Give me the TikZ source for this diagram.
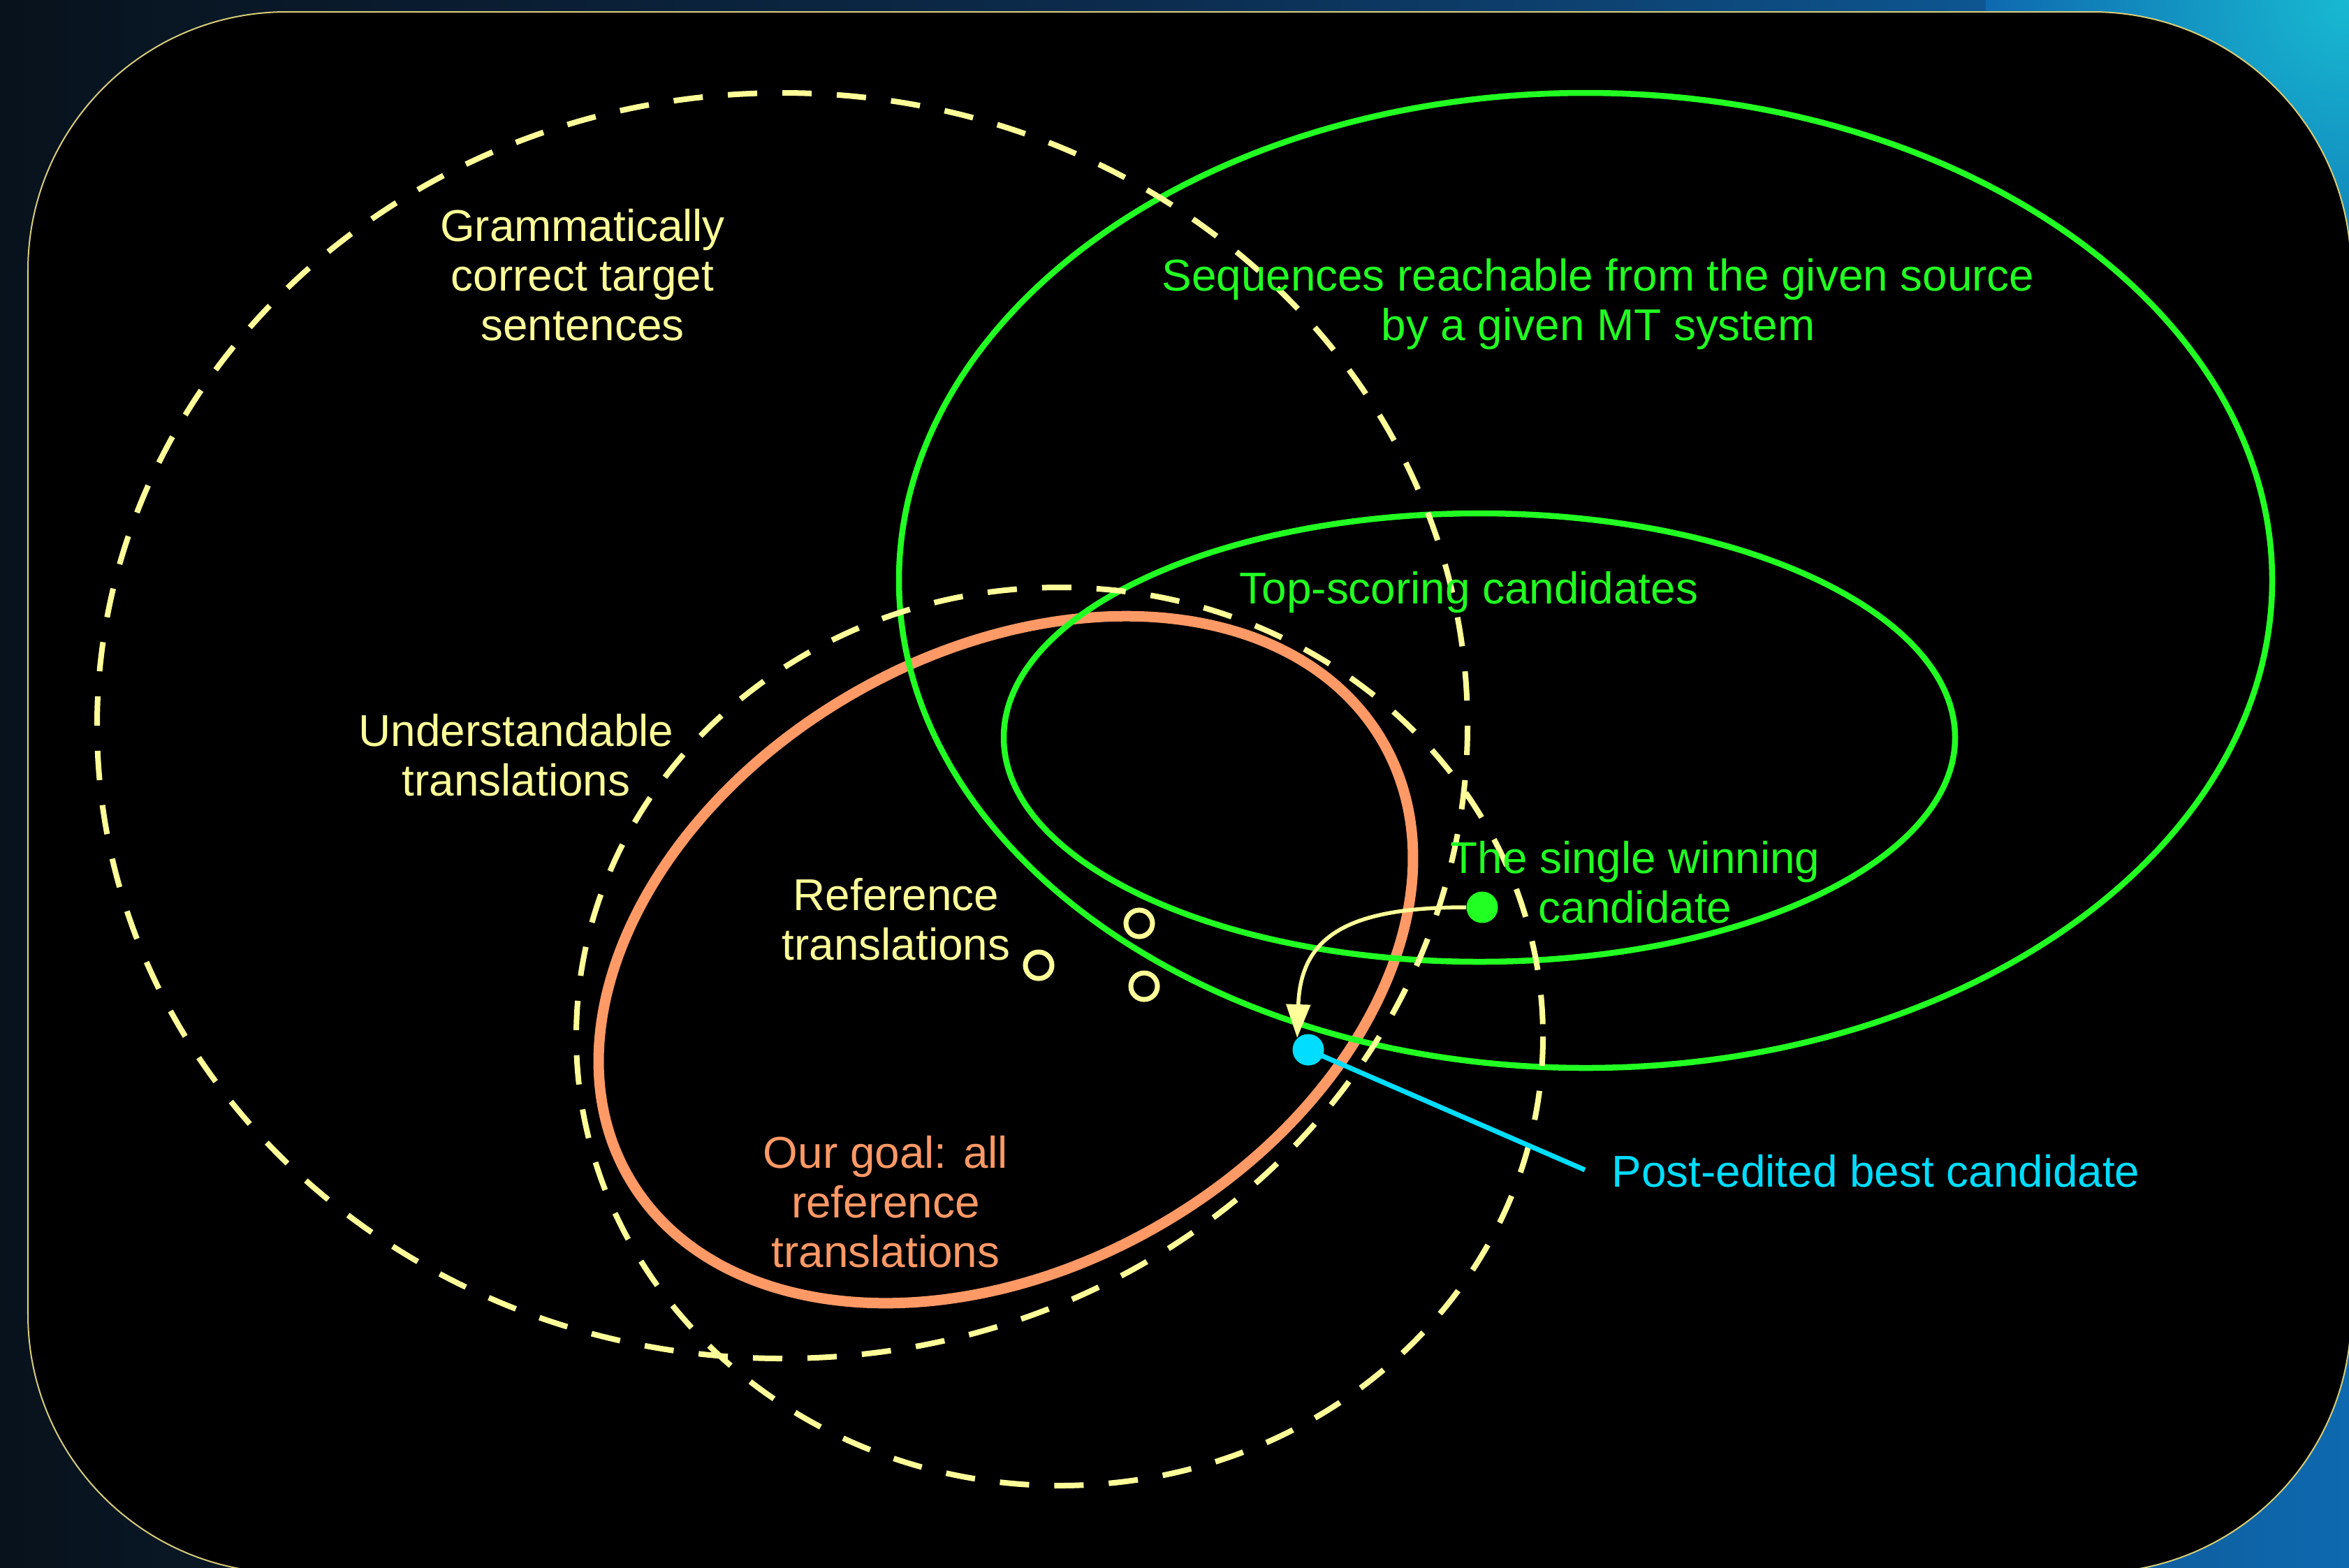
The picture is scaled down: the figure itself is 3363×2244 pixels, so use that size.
\documentclass[tikz,border=0pt]{standalone}
\usepackage{fontspec}
\setmainfont{Liberation Sans}
\usetikzlibrary{arrows.meta}
\definecolor{ylw}{RGB}{255,255,153}
\definecolor{grn}{RGB}{34,255,34}
\definecolor{org}{RGB}{255,153,102}
\definecolor{cyn}{RGB}{0,221,255}
\definecolor{bgA}{RGB}{8,18,28}
\definecolor{bgB}{RGB}{12,45,80}
\definecolor{bgC}{RGB}{14,105,175}
\definecolor{tealglow}{RGB}{24,185,210}
\definecolor{framecol}{RGB}{215,205,120}
\begin{document}
\begin{tikzpicture}[x=0.01cm,y=-0.01cm,
  lbl/.style={font=\fontsize{18.15pt}{20.2pt}\selectfont, align=center, inner sep=0pt, anchor=north},
  yset/.style={draw=ylw, line width=0.08cm, dash pattern=on 0.42cm off 0.36cm},
  gset/.style={draw=grn, line width=0.085cm},
  oset/.style={draw=org, line width=0.15cm},
  refdot/.style={circle, draw=ylw, line width=0.07cm, minimum size=0.38cm, inner sep=0pt},
  filldot/.style={circle, minimum size=0.45cm, inner sep=0pt}]
\useasboundingbox (0,0) rectangle (3363,2244);
% space background
\shade[left color=bgA, right color=bgC, middle color=bgB] (0,0) rectangle (3363,2244);
\shade[inner color=tealglow, outer color=bgC] (3363,0) circle [radius=520];
% black panel
\filldraw[fill=black, draw=framecol, line width=0.02cm, rounded corners=3.7cm] (40,17) rectangle (3366,2252);
% sets
\draw[oset, rotate around={30:(1440,1374)}] (1440,1374) ellipse [x radius=6.23cm, y radius=4.39cm];
\draw[gset] (2270,831) ellipse [x radius=983, y radius=698];
\draw[gset] (2118,1056) ellipse [x radius=681, y radius=321];
\draw[yset] (1120,1039) ellipse [x radius=981, y radius=906];
\draw[yset] (1517,1484) ellipse [x radius=692, y radius=643];
% labels
\node[lbl, text=ylw] (gram) at (834,295) {Grammatically\strut\\correct target\strut\\sentences\strut};
\node[lbl, text=grn] (seq) at (2288,366) {Sequences reachable from the given source\strut\\by a given MT system\strut};
\node[lbl, text=grn] (top) at (2103,814) {Top-scoring candidates\strut};
\node[lbl, text=ylw] (und) at (739,1018) {Understandable\strut\\translations\strut};
\node[lbl, text=grn] (win) at (2341,1200) {The single winning\strut\\candidate\strut};
\node[lbl, text=ylw] (refl) at (1283,1253) {Reference\strut\\translations\strut};
\node[lbl, text=org] (goal) at (1268,1622) {Our goal: all\strut\\reference\strut\\translations\strut};
\node[lbl, anchor=base west, text=cyn] (post) at (2307,1699) {Post-edited best candidate};
% reference points
\node[refdot] (r1) at (1487,1382) {};
\node[refdot] (r2) at (1631,1322) {};
\node[refdot] (r3) at (1638,1412) {};
% winning and post-edited candidates
\node[filldot, fill=grn] (gdot) at (2122,1299) {};
\node[filldot, fill=cyn] (cdot) at (1873,1503) {};
\coordinate (pend) at (2269,1675);
\draw[cyn, line width=0.07cm] (cdot.center) -- (pend);
\draw[ylw, line width=0.055cm, -{Triangle[length=0.48cm, width=0.34cm]}]
  (gdot.west) .. controls (1930,1299) and (1862,1340) .. (cdot.133);
\end{tikzpicture}
\end{document}
